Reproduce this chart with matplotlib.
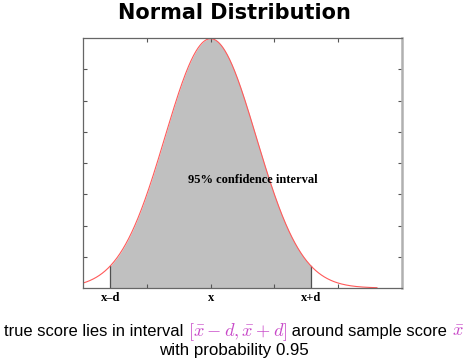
import numpy as np
import matplotlib
matplotlib.use("Agg")
import matplotlib.pyplot as plt

# parametry rozkladu
mu = 0.0
sigma = 1.0
d = 2.2
x_min, x_max = -2.8, 4.2
curve_end = 3.65
y_max = 0.4

x_ticks = [-1.4, 0.0, 1.4, 2.8]
y_ticks = [0.05, 0.10, 0.15, 0.20, 0.25, 0.30, 0.35]
tick_pos = [mu - d, mu, mu + d]
tick_labels = ["x\u2013d", "x", "x+d"]
annotation = "95% confidence interval"
title = "Normal Distribution"
caption_a = "true score lies in interval "
caption_b = r"$[\bar{x}-d,\bar{x}+d]$"
caption_c = " around sample score "
caption_d = r"$\bar{x}$"
caption_2 = "with probability 0.95"

plt.rcParams["mathtext.fontset"] = "cm"

x = np.linspace(x_min, curve_end, 600)
y = np.exp(-0.5 * ((x - mu) / sigma) ** 2) / (sigma * np.sqrt(2 * np.pi))

fig = plt.figure(figsize=(4.68, 3.63), dpi=100)
ax = fig.add_axes([0.1774, 0.2066, 0.6816, 0.6887])

mask = (x >= mu - d) & (x <= mu + d)
ax.fill_between(x[mask], 0, y[mask], color="#c0c0c0", lw=0)
for xb in (mu - d, mu + d):
    yb = np.exp(-0.5 * ((xb - mu) / sigma) ** 2) / (sigma * np.sqrt(2 * np.pi))
    ax.plot([xb, xb], [0, yb], color="#505050", lw=0.9)
ax.plot(x, y, color="#ff5a5a", lw=0.8)

ax.set_xlim(x_min, x_max)
ax.set_ylim(0, y_max)
ax.set_xticks(x_ticks)
ax.set_xticklabels([])
ax.set_yticks(y_ticks)
ax.set_yticklabels([])
ax.tick_params(direction="in", length=3, width=0.8, color="#555555",
               top=True, right=True)
for side in ("left", "top", "bottom"):
    ax.spines[side].set_color("#666666")
    ax.spines[side].set_linewidth(0.9)
ax.spines["right"].set_color("#b0b0b0")
ax.spines["right"].set_linewidth(1.8)

for pos, lab in zip(tick_pos, tick_labels):
    ax.text(pos, -0.006, lab, ha="center", va="top", fontsize=9,
            family="Liberation Serif", fontweight="bold")

ax.text(0.93, 0.173, annotation, ha="center", va="center", fontsize=9,
        family="Liberation Serif", fontweight="bold")

fig.text(0.5, 0.963, title, ha="center", va="center", fontsize=15,
         fontweight="bold")

# podpis skladany z kawalkow w dwoch kolorach
txt_font = "Liberation Sans"
txt_fs = 11.9
pieces = [(caption_a, "black", txt_fs), (caption_b, "#c848c8", 13.2),
          (caption_c, "black", txt_fs), (caption_d, "#c848c8", 13.2)]
renderer = fig.canvas.get_renderer()
texts = []
total = 0
for s, c, fs in pieces:
    t = fig.text(0, 0.075, s, color=c, fontsize=fs, va="baseline", ha="left",
                 family=txt_font)
    w = t.get_window_extent(renderer).width
    texts.append((t, w))
    total += w
x0 = (fig.bbox.width - total) / 2
for t, w in texts:
    t.set_x(x0 / fig.bbox.width)
    x0 += w
fig.text(0.5, 0.034, caption_2, ha="center", va="center", fontsize=12.2,
         family=txt_font)

fig.savefig("out.png", dpi=100)
